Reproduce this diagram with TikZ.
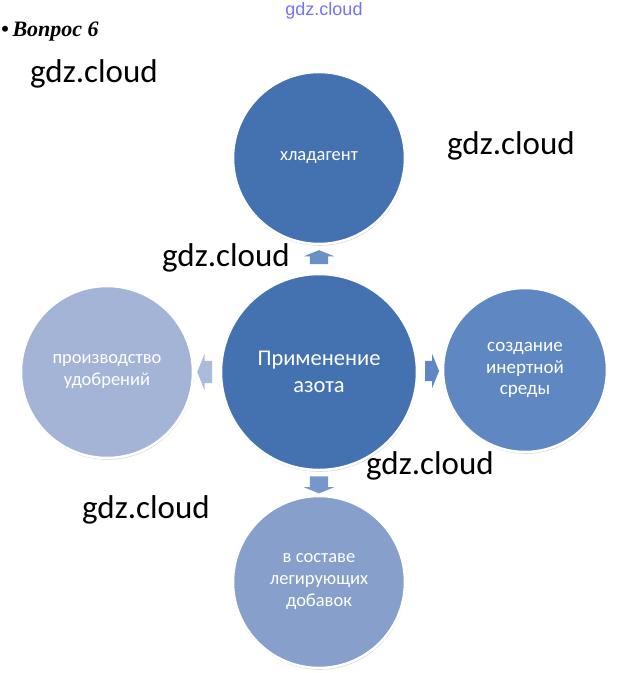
\documentclass[tikz,border=0pt]{standalone}
\usepackage{fontspec}
\setmainfont{Carlito}
\newfontfamily\headfont{Liberation Serif}
\newfontfamily\markfont{Liberation Sans}
\usetikzlibrary{positioning,calc,shapes.arrows,shadows}
\definecolor{darkblue}{HTML}{4472B0}
\definecolor{midblue}{HTML}{5F88C2}
\definecolor{softblue}{HTML}{87A0CB}
\definecolor{paleblue}{HTML}{A3B4D6}
\definecolor{arrowblue}{HTML}{7597C9}
\begin{document}
\begin{tikzpicture}[x=1pt,y=-1pt,
    bubble/.style={circle,draw=white,line width=2.5pt,text=white,align=center,
        inner sep=0pt,minimum size=172pt,font=\fontsize{18.5}{22}\selectfont,
        drop shadow={shadow xshift=0.6pt,shadow yshift=-1.8pt,fill=black!35,opacity=.45}},
    harrow/.style={single arrow,draw=none,inner xsep=0pt,inner ysep=#1,
        minimum height=14pt,single arrow head extend=6pt,single arrow tip angle=136},
    varrow/.style={single arrow,draw=none,inner ysep=0pt,inner xsep=#1,
        minimum height=14pt,single arrow head extend=6pt,single arrow tip angle=136},
    wmark/.style={font=\fontsize{33}{36}\selectfont,text=black,inner sep=0pt}]
    \useasboundingbox[fill=white] (0,0) rectangle (621,673);

    % circles
    \node[bubble,fill=darkblue,minimum size=196pt,font=\fontsize{22.5}{27}\selectfont] (ctr) at (319,372) {Применение\\азота};
    \node[bubble,fill=darkblue] (top) at (319,158) {хладагент};
    \node[bubble,fill=paleblue] (lft) at (107,372) {производство\\удобрений};
    \node[bubble,fill=midblue,minimum size=164pt,font=\fontsize{19}{21.5}\selectfont] (rgt) at (525,370) {создание\\инертной\\среды};
    \node[bubble,fill=softblue] (bot) at (319,582) {в составе\\легирующих\\добавок};

    % block arrows
    \node[varrow=9pt,fill=arrowblue!80!darkblue,shape border rotate=90] (aup) at ($(ctr.north)!.5!(top.south)$) {};
    \node[varrow=9pt,fill=arrowblue,shape border rotate=270,minimum height=17pt] (adown) at ($(ctr.south)!.5!(bot.north)$) {};
    \node[harrow=11pt,fill=paleblue!90!white,shape border rotate=180,minimum height=15pt,single arrow head extend=7pt] (aleft) at ($(ctr.west)!.5!(lft.east)$) {};
    \node[harrow=10pt,fill=midblue,single arrow head extend=7pt] (aright) at ($(ctr.east)!.5!(rgt.west)$) {};

    % texts
    \node[anchor=west,inner sep=0pt,font=\headfont\bfseries\itshape\fontsize{22}{25}\selectfont] (title) at (1,32) {\textbullet\,Вопрос 6};
    \node[inner sep=0pt,font=\markfont\fontsize{18}{20}\selectfont,text=blue!55] (wtop) at (324,11) {gdz.cloud};
    \node[wmark] (w1) at (94,74) {gdz.cloud};
    \node[wmark] (w2) at (511,146) {gdz.cloud};
    \node[wmark] (w3) at (226,258) {gdz.cloud};
    \node[wmark] (w4) at (430,466) {gdz.cloud};
    \node[wmark] (w5) at (146,510) {gdz.cloud};
\end{tikzpicture}
\end{document}
